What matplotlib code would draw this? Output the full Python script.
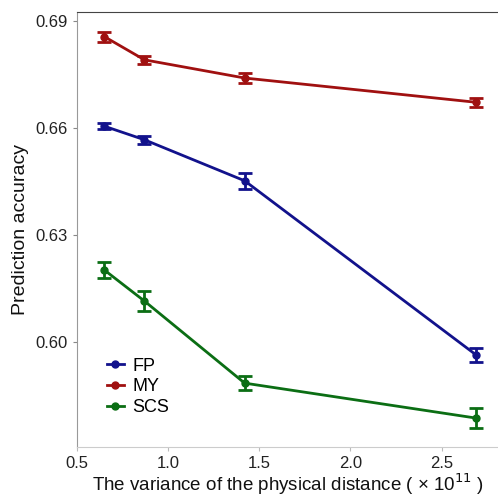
import matplotlib
matplotlib.use("Agg")
import matplotlib.pyplot as plt
from matplotlib.lines import Line2D

plt.rcParams['font.family'] = ['Liberation Sans', 'DejaVu Sans']

x_vals = [0.65, 0.87, 1.42, 2.69]
series = ["FP", "MY", "SCS"]
fp_vals = [0.6605, 0.6567, 0.6452, 0.5964]
fp_err = [0.0009, 0.0011, 0.0022, 0.0019]
my_vals = [0.6856, 0.6791, 0.6740, 0.6672]
my_err = [0.0014, 0.0011, 0.0014, 0.0012]
scs_vals = [0.6202, 0.6115, 0.5885, 0.5787]
scs_err = [0.0023, 0.0029, 0.0020, 0.0027]
colors = ["#12128c", "#a01010", "#0b6e14"]
yticks = [0.60, 0.63, 0.66, 0.69]
xticks = [0.5, 1.0, 1.5, 2.0, 2.5]

fig = plt.figure(figsize=(4.98, 4.98), dpi=100)
ax = fig.add_axes([0.1546, 0.1024, 0.8454, 0.8735])

handles = []
for name, vals, errs, c in zip(series, [fp_vals, my_vals, scs_vals],
                               [fp_err, my_err, scs_err], colors):
    ax.errorbar(x_vals, vals, yerr=errs, color=c, lw=2, marker='o', ms=5,
                capsize=5, capthick=2, elinewidth=2)
    handles.append(Line2D([], [], color=c, lw=2, marker='o', ms=5, label=name))

ax.set_xlim(0.5, 2.81)
ax.set_ylim(0.5706, 0.6925)
ax.set_xticks(xticks)
ax.set_xticklabels([f"{v:.1f}" for v in xticks])
ax.set_yticks(yticks)
ax.set_yticklabels([f"{v:.2f}" for v in yticks])
ax.tick_params(axis='both', labelsize=12, colors='#222222', length=3)
ax.tick_params(axis='x', color='#bbbbbb')
ax.tick_params(axis='y', color='#888888')

ax.spines['right'].set_visible(False)
ax.spines['top'].set_color('#444444')
ax.spines['left'].set_color('#999999')
ax.spines['bottom'].set_color('#cccccc')

ax.set_xlabel(r"The variance of the physical distance ( × 10$^{11}$ )",
              fontsize=13.5, color='#111111', labelpad=0)
ax.set_ylabel("Prediction accuracy", fontsize=14, color='#111111', labelpad=5)

ax.legend(handles=handles, loc='lower left', bbox_to_anchor=(0.055, 0.055),
          frameon=False, fontsize=13, handlelength=0.9, handletextpad=0.5,
          labelspacing=0.2, borderaxespad=0)

fig.savefig("out.png", dpi=100)
